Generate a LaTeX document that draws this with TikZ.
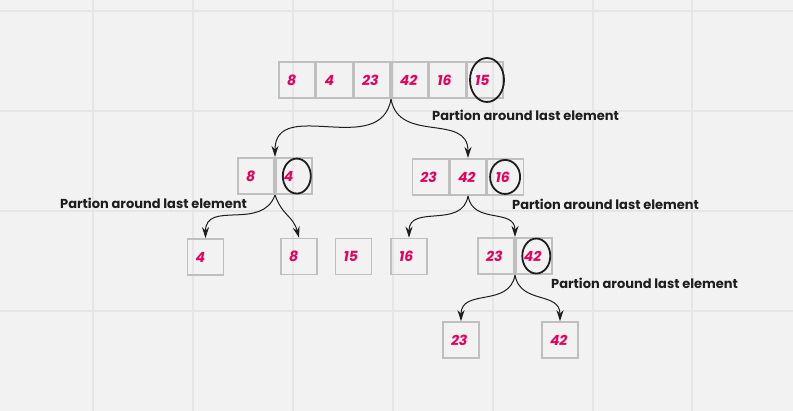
\documentclass[tikz,border=0pt]{standalone}
\usepackage{fontspec}
\setmainfont{Poppins}
\usetikzlibrary{matrix,arrows.meta}

\definecolor{numred}{HTML}{E5005F}
\definecolor{boxgray}{HTML}{BFBFBF}
\definecolor{bggray}{HTML}{F2F2F2}
\definecolor{gridgray}{HTML}{E6E6E6}
\definecolor{inkblack}{HTML}{1E1E1E}

\tikzset{
	cell/.style={draw=boxgray, line width=1.6pt, minimum height=36pt, text width=20pt,
		inner xsep=8pt, inner ysep=0pt, align=left, text=numred,
		font=\fontsize{14}{14}\selectfont\bfseries\itshape},
	arr/.style={matrix of nodes, nodes={cell}, column sep=0pt, inner sep=0pt},
	pivot/.style={draw=inkblack, line width=1.8pt},
	split/.style={draw=inkblack, line width=1pt, looseness=1.2,
		-{Stealth[length=11pt,width=7pt]}},
	note/.style={anchor=base west, inner sep=0pt, text=inkblack,
		font=\fontsize{13}{13}\selectfont\bfseries},
}

\begin{document}
\begin{tikzpicture}[x=1pt, y=-1pt]
\fill[bggray] (0,0) rectangle (793,411);
\useasboundingbox (0,0) rectangle (793,411);
\foreach \gx in {93,193,293,393,493,593,692}
	\draw[gridgray, line width=1.2pt] (\gx,0) -- (\gx,411);
\foreach \gy in {11,111,211,311}
	\draw[gridgray, line width=1.2pt] (0,\gy) -- (793,\gy);

\matrix (arrA) [arr] at (391,80) { 8 & 4 & 23 & 42 & 16 & 15 \\ };
\matrix (arrL) [arr] at (275,176) { 8 & 4 \\ };
\matrix (arrR) [arr] at (468,177) { 23 & 42 & 16 \\ };
\matrix (arrRR) [arr] at (515,256) { 23 & 42 \\ };

\node[cell] (s4) at (205.5,257) {4};
\node[cell] (s8) at (299,256.5) {8};
\node[cell] (s15) at (353.5,256.5) {15};
\node[cell] (s16) at (409,256.5) {16};
\node[cell] (s23) at (461,340) {23};
\node[cell] (s42) at (560,340) {42};

\draw[pivot] ([xshift=2pt]arrA-1-6.center) ellipse [x radius=17pt, y radius=22pt];
\draw[pivot] ([xshift=3pt]arrL-1-2.center) ellipse [x radius=14pt, y radius=17.5pt];
\draw[pivot] ([xshift=-0.5pt]arrR-1-3.center) ellipse [x radius=15pt, y radius=17pt];
\draw[pivot] ([xshift=2.5pt]arrRR-1-2.center) ellipse [x radius=14pt, y radius=17.5pt];

\draw[split] (arrA.south) to[out=-100,in=90] (arrL.north);
\draw[split] (arrA.south) to[out=-80,in=90] (arrR.north);
\draw[split] (arrL.south) to[out=-110,in=90] (s4.north);
\draw[split] (arrL.south) to[out=-70,in=105] (s8.north);
\draw[split] (arrR.south) to[out=-100,in=90] (s16.north);
\draw[split] (arrR.south) to[out=-80,in=90] (arrRR.north);
\draw[split] (arrRR.south) to[out=-100,in=90] (s23.north);
\draw[split] (arrRR.south) to[out=-80,in=90] (s42.north);

\node[note] (n1) at (432,121) {Partion around last element};
\node[note] (n2) at (60,209) {Partion around last element};
\node[note] (n3) at (512,209.5) {Partion around last element};
\node[note] (n4) at (551,289) {Partion around last element};
\end{tikzpicture}
\end{document}
